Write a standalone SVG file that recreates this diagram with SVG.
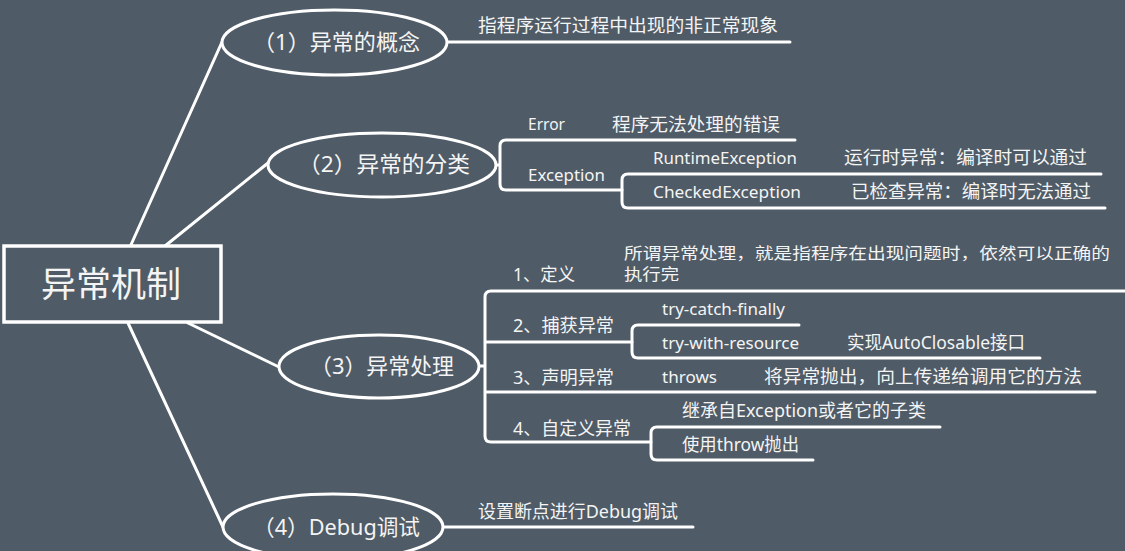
<svg xmlns="http://www.w3.org/2000/svg" width="1125" height="551" viewBox="0 0 1125 551">
<style>
.bg{fill:#4f5b66}
.ln{fill:none;stroke:#ffffff;stroke-width:3;stroke-linecap:round;stroke-linejoin:round}
.el{fill:#4f5b66;stroke:#ffffff;stroke-width:3}
.t{fill:#f4f4f4;font-family:"Noto Sans","Noto Sans CJK SC",sans-serif;font-size:18px}
.lat{font-size:16px}
.big{font-size:22px}
.title{font-size:35px}
.sm{font-size:16px}
</style>
<rect class="bg" x="0" y="0" width="1125" height="551"/>
<g id="connectors">
  <line class="ln" x1="130" y1="247" x2="222" y2="42"/>
  <line class="ln" x1="165" y1="246" x2="268" y2="163"/>
  <line class="ln" x1="188" y1="323" x2="279" y2="367"/>
  <line class="ln" x1="128" y1="323" x2="223" y2="527"/>
  <path class="ln" d="M447 42 H790"/>
  <path class="ln" d="M496 165 H500 M795 140 H506 Q500 140 500 146 V184 Q500 190 506 190 H622"/>
  <path class="ln" d="M1101 174 H628 Q622 174 622 180 V202 Q622 208 628 208 H1105"/>
  <path class="ln" d="M479 366 H485 M1125 291 H491 Q485 291 485 297 V436 Q485 442 491 442 H651 M485 342 H632 M485 392 H1095"/>
  <path class="ln" d="M799 325 H638 Q632 325 632 331 V352 Q632 358 638 358 H1040"/>
  <path class="ln" d="M940 427 H657 Q651 427 651 433 V454 Q651 460 657 460 H813"/>
  <path class="ln" d="M443 527 H693"/>
</g>
<g id="root">
  <rect x="4" y="246" width="217" height="76" fill="#4f5b66" stroke="#ffffff" stroke-width="3.5"/>
  <text class="t title" x="111" y="297" text-anchor="middle">异常机制</text>
</g>
<g id="n1">
  <ellipse class="el" cx="334.5" cy="42.5" rx="112.5" ry="32.5"/>
  <text class="t big" x="253" y="50" textLength="167" lengthAdjust="spacingAndGlyphs">（1）异常的概念</text>
</g>
<g id="n1-1"><text class="t" x="478" y="32" textLength="300" lengthAdjust="spacingAndGlyphs">指程序运行过程中出现的非正常现象</text></g>
<g id="n2">
  <ellipse class="el" cx="382" cy="165" rx="114" ry="32"/>
  <text class="t big" x="298" y="172" textLength="172" lengthAdjust="spacingAndGlyphs">（2）异常的分类</text>
</g>
<g id="n2-error"><text class="t lat" x="528" y="130" textLength="37" lengthAdjust="spacingAndGlyphs">Error</text></g>
<g id="n2-error-d"><text class="t" x="612" y="131" textLength="168" lengthAdjust="spacingAndGlyphs">程序无法处理的错误</text></g>
<g id="n2-exc"><text class="t lat" x="528" y="181" textLength="77" lengthAdjust="spacingAndGlyphs">Exception</text></g>
<g id="n2-rt"><text class="t lat" x="653" y="164" textLength="144" lengthAdjust="spacingAndGlyphs">RuntimeException</text></g>
<g id="n2-rt-d"><text class="t" x="844" y="164" textLength="243" lengthAdjust="spacingAndGlyphs">运行时异常：编译时可以通过</text></g>
<g id="n2-ck"><text class="t lat" x="653" y="198" textLength="148" lengthAdjust="spacingAndGlyphs">CheckedException</text></g>
<g id="n2-ck-d"><text class="t" x="851" y="198" textLength="240" lengthAdjust="spacingAndGlyphs">已检查异常：编译时无法通过</text></g>
<g id="n3">
  <ellipse class="el" cx="379" cy="366.5" rx="100" ry="31.5"/>
  <text class="t big" x="310" y="374" textLength="144" lengthAdjust="spacingAndGlyphs">（3）异常处理</text>
</g>
<g id="n3-1"><text class="t" x="513" y="281" textLength="62" lengthAdjust="spacingAndGlyphs">1、定义</text></g>
<g id="n3-1-d">
  <text class="t sm" x="624" y="259" textLength="486" lengthAdjust="spacingAndGlyphs">所谓异常处理，就是指程序在出现问题时，依然可以正确的</text>
  <text class="t sm" x="624" y="280" textLength="55" lengthAdjust="spacingAndGlyphs">执行完</text>
</g>
<g id="n3-2"><text class="t" x="513" y="332" textLength="101" lengthAdjust="spacingAndGlyphs">2、捕获异常</text></g>
<g id="n3-2-a"><text class="t lat" x="662" y="315" textLength="123" lengthAdjust="spacingAndGlyphs">try-catch-finally</text></g>
<g id="n3-2-b"><text class="t lat" x="662" y="349" textLength="137" lengthAdjust="spacingAndGlyphs">try-with-resource</text></g>
<g id="n3-2-b-d"><text class="t" x="847" y="349" textLength="178" lengthAdjust="spacingAndGlyphs">实现AutoClosable接口</text></g>
<g id="n3-3"><text class="t" x="513" y="384" textLength="101" lengthAdjust="spacingAndGlyphs">3、声明异常</text></g>
<g id="n3-3-a"><text class="t lat" x="662" y="383" textLength="55" lengthAdjust="spacingAndGlyphs">throws</text></g>
<g id="n3-3-a-d"><text class="t" x="764" y="383" textLength="318" lengthAdjust="spacingAndGlyphs">将异常抛出，向上传递给调用它的方法</text></g>
<g id="n3-4"><text class="t" x="513" y="435" textLength="118" lengthAdjust="spacingAndGlyphs">4、自定义异常</text></g>
<g id="n3-4-a"><text class="t" x="682" y="417" textLength="244" lengthAdjust="spacingAndGlyphs">继承自Exception或者它的子类</text></g>
<g id="n3-4-b"><text class="t" x="682" y="451" textLength="117" lengthAdjust="spacingAndGlyphs">使用throw抛出</text></g>
<g id="n4">
  <ellipse class="el" cx="333" cy="527" rx="110" ry="33"/>
  <text class="t big" x="253" y="535" textLength="167" lengthAdjust="spacingAndGlyphs">（4）Debug调试</text>
</g>
<g id="n4-1"><text class="t" x="478" y="518" textLength="200" lengthAdjust="spacingAndGlyphs">设置断点进行Debug调试</text></g>
</svg>
